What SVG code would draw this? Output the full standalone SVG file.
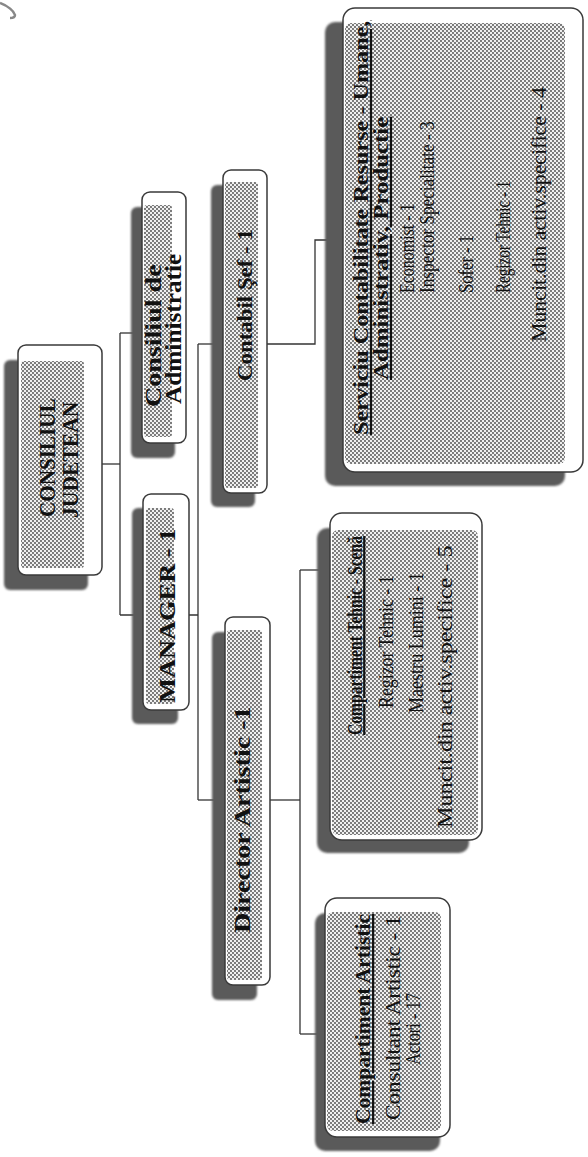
<svg xmlns="http://www.w3.org/2000/svg" width="588" height="1157" viewBox="0 0 588 1157">
<defs>
<pattern id="dots" width="4" height="4" patternUnits="userSpaceOnUse">
<rect width="4" height="4" fill="#f0f0f0"/>
<circle cx="1" cy="1" r="0.9" fill="#444"/>
<circle cx="3" cy="3" r="0.9" fill="#444"/>
</pattern>
<filter id="soft" x="-10%" y="-10%" width="120%" height="120%"><feGaussianBlur stdDeviation="1"/></filter>
</defs>
<style>
.shadow{fill:#5a5a5a;filter:url(#soft)}
.box{fill:#fff;stroke:#3a3a3a;stroke-width:1.5}
.fill{fill:url(#dots)}
.conn{fill:none;stroke:#333;stroke-width:1.3}
text{font-family:"Liberation Serif","Times New Roman",serif;fill:#111}
.b{font-weight:bold}
.u{text-decoration:underline}
</style>
<rect width="588" height="1157" fill="#fff"/>
<path d="M0,3 C8,6 14,11 15,15 C15,18 12,18 10,18" fill="none" stroke="#888" stroke-width="2.5"/>
<g id="connectors" class="conn">
<path d="M102,464 H120"/>
<path d="M120,333 V615"/>
<path d="M120,333 H142"/>
<path d="M120,615 H198"/>
<path d="M198,344 V800"/>
<path d="M198,344 H223"/>
<path d="M267,344 H315 V240 H343"/>
<path d="M198,800 H225"/>
<path d="M270,800 H300"/>
<path d="M300,570 V1034"/>
<path d="M300,570 H330"/>
<path d="M300,1034 H325"/>
</g>
<g id="consiliul-judetean">
<rect class="shadow" x="4" y="360" width="84" height="230" rx="6"/>
<rect class="box" x="18" y="345" width="84" height="230" rx="8"/>
<rect class="fill" x="21" y="361" width="63" height="207" rx="3"/>
<text class="b" font-size="24" transform="translate(55,517) rotate(-90) scale(0.88,1)">CONSILIUL</text>
<text class="b" font-size="24" transform="translate(78,518) rotate(-90) scale(0.9,1)">JUDETEAN</text>
</g>
<g id="consiliul-administratie">
<rect class="shadow" x="131" y="207" width="44" height="251" rx="6"/>
<rect class="box" x="142" y="192" width="44" height="251" rx="8"/>
<rect class="fill" x="144" y="205" width="28" height="232" rx="3"/>
<text class="b" font-size="23" transform="translate(161,407) rotate(-90) scale(1.22,1)">Consiliul de</text>
<text class="b" font-size="23" transform="translate(181,404) rotate(-90) scale(1.1,1)">Administratie</text>
</g>
<g id="manager">
<rect class="shadow" x="132" y="508" width="46" height="216" rx="6"/>
<rect class="box" x="143" y="494" width="46" height="216" rx="8"/>
<rect class="fill" x="146" y="508" width="28" height="196" rx="3"/>
<text class="b" font-size="24" transform="translate(175,703) rotate(-90) scale(1.1,1)">MANAGER - 1</text>
</g>
<g id="contabil-sef">
<rect class="shadow" x="211" y="185" width="44" height="322" rx="6"/>
<rect class="box" x="223" y="170" width="44" height="323" rx="8"/>
<rect class="fill" x="225" y="182" width="33" height="306" rx="3"/>
<text class="b" font-size="22" transform="translate(252,381) rotate(-90) scale(1.04,1)">Contabil Şef - 1</text>
</g>
<g id="director-artistic">
<rect class="shadow" x="212" y="632" width="45" height="368" rx="6"/>
<rect class="box" x="225" y="617" width="45" height="368" rx="8"/>
<rect class="fill" x="227" y="630" width="35" height="350" rx="3"/>
<text class="b" font-size="24" transform="translate(250,933) rotate(-90) scale(1.17,1)">Director Artistic -1</text>
</g>
<g id="serviciu-contabilitate">
<rect class="shadow" x="325" y="22" width="240" height="464" rx="10"/>
<rect class="box" x="343" y="8" width="240" height="464" rx="12"/>
<rect class="fill" x="345" y="23" width="220" height="441" rx="6"/>
<text class="b u" font-size="22" transform="translate(368,435) rotate(-90) scale(1.1,1)">Serviciu Contabilitate Resurse - Umane,</text>
<text class="b u" font-size="22" transform="translate(388,380) rotate(-90) scale(1.13,1)">Administrativ, Productie</text>
<text font-size="21" transform="translate(414,293) rotate(-90) scale(0.76,1)">Economist - 1</text>
<text font-size="21" transform="translate(434,293) rotate(-90) scale(0.82,1)">Inspector Specialitate - 3</text>
<text font-size="21" transform="translate(473,293) rotate(-90) scale(0.79,1)">Sofer - 1</text>
<text font-size="21" transform="translate(510,293) rotate(-90) scale(0.72,1)">Regizor Tehnic - 1</text>
<text font-size="21" transform="translate(546,342) rotate(-90) scale(1.04,1)">Muncit.din activ.specifice - 4</text>
</g>
<g id="compartiment-tehnic">
<rect class="shadow" x="317" y="528" width="152" height="325" rx="10"/>
<rect class="box" x="330" y="513" width="152" height="327" rx="12"/>
<rect class="fill" x="332" y="530" width="146" height="305" rx="6"/>
<text class="b u" font-size="22" transform="translate(362,735) rotate(-90) scale(0.71,1)">Compartiment Tehnic - Scenă</text>
<text font-size="21" transform="translate(393,708) rotate(-90) scale(0.85,1)">Regizor Tehnic - 1</text>
<text font-size="21" transform="translate(423,713) rotate(-90) scale(0.86,1)">Maestru Lumini - 1</text>
<text font-size="22" transform="translate(452,828) rotate(-90) scale(1.1,1)">Muncit.din activ.specifice - 5</text>
</g>
<g id="compartiment-artistic">
<rect class="shadow" x="315" y="913" width="125" height="238" rx="10"/>
<rect class="box" x="325" y="898" width="125" height="239" rx="12"/>
<rect class="fill" x="327" y="912" width="114" height="219" rx="6"/>
<text class="b u" font-size="22" transform="translate(370,1124) rotate(-90) scale(0.98,1)">Compartiment Artistic</text>
<text font-size="21" transform="translate(400,1120) rotate(-90) scale(1.1,1)">Consultant Artistic - 1</text>
<text font-size="21" transform="translate(420,1065) rotate(-90) scale(0.78,1)">Actori - 17</text>
</g>
</svg>
